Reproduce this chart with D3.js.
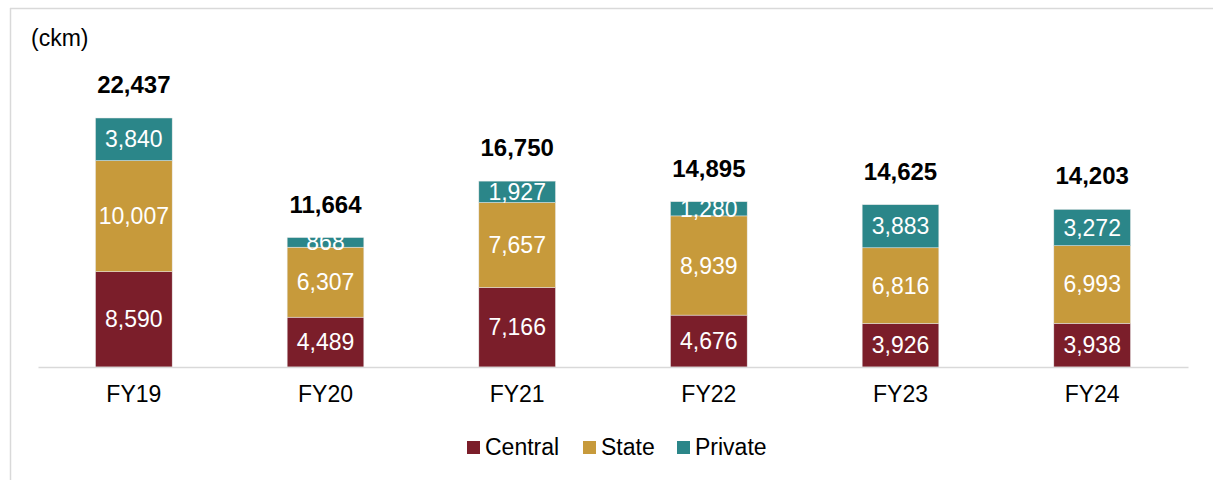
<!DOCTYPE html>
<html>
<head>
<meta charset="utf-8">
<script src="https://cdn.jsdelivr.net/npm/d3@7"></script>
<style>
  body { margin: 0; background: #fff; }
  text { font-family: "Liberation Sans", Arial, sans-serif; }
</style>
</head>
<body>
<div id="chart"></div>
<script>
// data
var years = ["FY19", "FY20", "FY21", "FY22", "FY23", "FY24"];
var central = [8590, 4489, 7166, 4676, 3926, 3938];
var state = [10007, 6307, 7657, 8939, 6816, 6993];
var priv = [3840, 868, 1927, 1280, 3883, 3272];
var totals = [22437, 11664, 16750, 14895, 14625, 14203];

var seriesNames = ["Central", "State", "Private"];
var colors = ["#7b1e2a", "#c79a3b", "#2b8689"];

var W = 1213, H = 480;
var margin = { top: 118, right: 25, bottom: 113, left: 38 },
    width = W - margin.left - margin.right,
    height = H - margin.top - margin.bottom;

var fs = "23px";

var svg = d3.select("#chart").append("svg")
    .attr("width", W)
    .attr("height", H);

// frame lines (left and top)
svg.append("line").attr("x1", 10.5).attr("x2", 10.5).attr("y1", 8).attr("y2", H)
    .attr("stroke", "#d9d9d9").attr("stroke-width", 1.5);
svg.append("line").attr("x1", 10).attr("x2", W).attr("y1", 8.5).attr("y2", 8.5)
    .attr("stroke", "#d9d9d9").attr("stroke-width", 1.5);

svg.append("text")
    .attr("x", 31).attr("y", 46)
    .attr("font-size", fs)
    .attr("fill", "#000")
    .text("(ckm)");

var g = svg.append("g")
    .attr("transform", "translate(" + margin.left + "," + margin.top + ")");

var table = years.map(function (y, i) {
    return { year: y, Central: central[i], State: state[i], Private: priv[i], total: totals[i] };
});

var x = d3.scaleBand().domain(years).range([0, width]).paddingInner(0.6).paddingOuter(0.3);
var y = d3.scaleLinear().domain([0, d3.max(totals)]).range([height, 0]);

var stack = d3.stack().keys(seriesNames)(table);

var layers = g.selectAll(".layer")
    .data(stack)
    .enter().append("g")
    .attr("fill", function (d, i) { return colors[i]; });

layers.selectAll("rect")
    .data(function (d) { return d; })
    .enter().append("rect")
    .attr("x", function (d) { return x(d.data.year); })
    .attr("y", function (d) { return y(d[1]); })
    .attr("width", x.bandwidth())
    .attr("height", function (d) { return y(d[0]) - y(d[1]); })
    .attr("stroke", "#e8e8e8")
    .attr("stroke-width", 0.5);

layers.selectAll("text")
    .data(function (d) { return d; })
    .enter().append("text")
    .attr("x", function (d) { return x(d.data.year) + x.bandwidth() / 2; })
    .attr("y", function (d) { return (y(d[0]) + y(d[1])) / 2 + 8; })
    .attr("text-anchor", "middle")
    .attr("font-size", fs)
    .attr("fill", "#fff")
    .text(function (d) { return d3.format(",")(d[1] - d[0]); });

// totals
g.selectAll(".total")
    .data(table)
    .enter().append("text")
    .attr("x", function (d) { return x(d.year) + x.bandwidth() / 2; })
    .attr("y", function (d) { return y(d.total) - 25; })
    .attr("text-anchor", "middle")
    .attr("font-size", "24px")
    .attr("font-weight", "bold")
    .attr("fill", "#000")
    .text(function (d) { return d3.format(",")(d.total); });

// x axis
var xAxis = g.append("g")
    .attr("transform", "translate(0," + height + ")")
    .call(d3.axisBottom(x).tickSize(0).tickPadding(19));
xAxis.select(".domain").attr("stroke", "#d9d9d9").attr("stroke-width", 1.5);
xAxis.selectAll("text")
    .attr("font-size", fs)
    .attr("font-family", "Liberation Sans, Arial, sans-serif")
    .attr("fill", "#000");

// legend
var legendX = [467, 583, 677];
var legend = svg.selectAll(".legend")
    .data(seriesNames)
    .enter().append("g")
    .attr("transform", function (d, i) { return "translate(" + legendX[i] + ",441)"; });
legend.append("rect")
    .attr("width", 13).attr("height", 13)
    .attr("fill", function (d, i) { return colors[i]; });
legend.append("text")
    .attr("x", 18).attr("y", 14)
    .attr("font-size", fs)
    .attr("fill", "#000")
    .text(function (d) { return d; });
</script>
</body>
</html>
